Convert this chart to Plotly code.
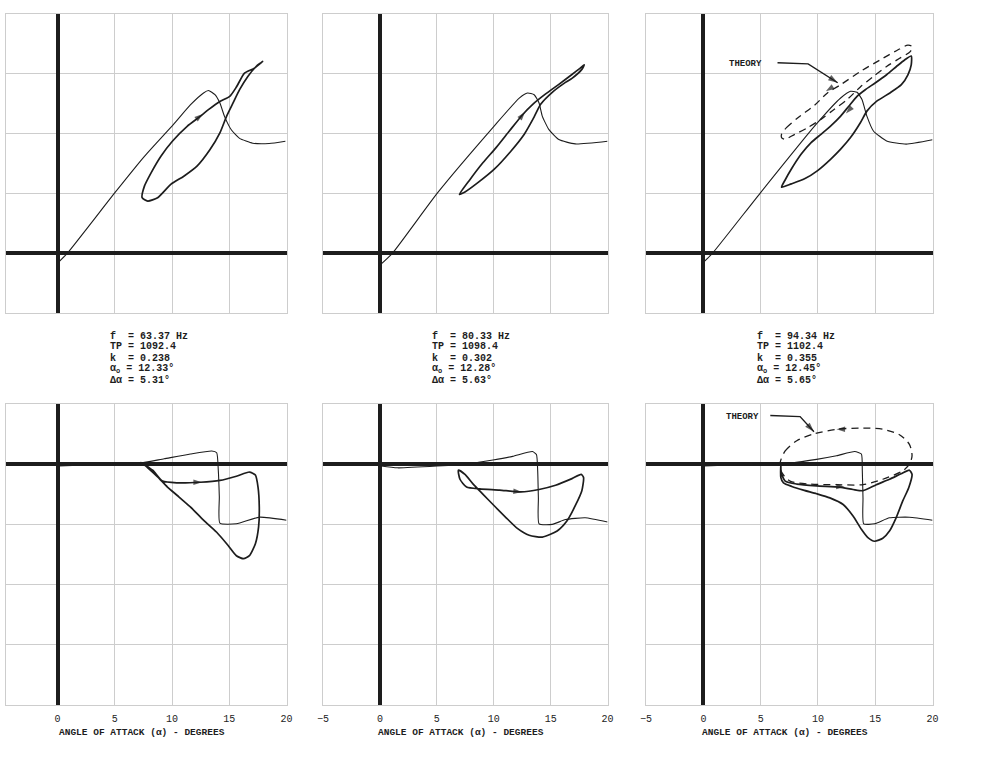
import plotly.graph_objects as go

# ---------------- DATA ----------------
# Top row: lift coefficient vs angle of attack (grid step 0.5)
A1_STATIC = [0.06, 0.86, 5.01, 7.59, 10.11, 11.6, 12.75, 13.18, 13.75, 14.18, 14.6, 15.19, 15.9, 17.05, 18.48, 19.9]
CL1_STATIC = [-0.078, 0.0, 0.506, 0.81, 1.075, 1.24, 1.34, 1.36, 1.325, 1.255, 1.14, 1.03, 0.96, 0.92, 0.917, 0.936]
A1_LOOP = [7.39, 7.88, 8.74, 9.89, 11.03, 12.18, 13.32, 14.18, 14.76, 15.33, 15.9, 16.62, 17.34, 17.91, 17.19,
           16.33, 15.62, 15.04, 14.18, 13.18, 12.46, 11.32, 10.03, 9.03, 8.17, 7.59, 7.39]
CL1_LOOP = [0.464, 0.436, 0.464, 0.575, 0.644, 0.728, 0.867, 1.006, 1.144, 1.256, 1.367, 1.478, 1.561, 1.603, 1.547,
            1.506, 1.389, 1.311, 1.269, 1.2, 1.144, 1.061, 0.936, 0.811, 0.672, 0.561, 0.464]

A2_STATIC = [0.09, 1.1, 5.07, 10.07, 12.24, 12.97, 13.55, 13.98, 14.27, 14.85, 15.72, 17.16, 20.0]
CL2_STATIC = [-0.092, 0.0, 0.506, 1.067, 1.297, 1.339, 1.325, 1.256, 1.144, 1.033, 0.95, 0.914, 0.936]
A2_LOOP = [6.98, 7.9, 9.06, 10.22, 11.37, 12.53, 13.4, 14.56, 15.72, 16.87, 17.6, 17.95, 17.74, 16.87, 16.3,
           15.14, 14.12, 13.55, 12.68, 11.52, 10.07, 8.63, 7.47, 6.98]
CL2_LOOP = [0.492, 0.615, 0.758, 0.885, 1.022, 1.158, 1.243, 1.332, 1.412, 1.494, 1.548, 1.575, 1.537, 1.462, 1.428,
            1.345, 1.245, 1.14, 0.995, 0.855, 0.705, 0.592, 0.512, 0.492]

A3_STATIC = [0.09, 0.8, 4.96, 9.83, 11.98, 12.84, 13.41, 13.84, 14.27, 14.84, 15.99, 17.7, 20.0]
CL3_STATIC = [-0.069, 0.0, 0.503, 1.077, 1.298, 1.354, 1.345, 1.285, 1.146, 1.022, 0.939, 0.912, 0.948]
A3_LOOP = [6.82, 7.68, 8.83, 9.97, 11.12, 11.98, 12.84, 13.7, 14.27, 15.13, 16.28, 17.28, 17.85, 18.14, 18.14,
           17.56, 16.85, 15.99, 14.99, 14.13, 13.41, 12.69, 11.98, 11.12, 10.26, 9.4, 8.54, 7.68, 7.11, 6.82]
CL3_LOOP = [0.552, 0.58, 0.622, 0.691, 0.787, 0.87, 0.967, 1.091, 1.188, 1.271, 1.34, 1.409, 1.492, 1.575, 1.649,
            1.616, 1.561, 1.492, 1.423, 1.367, 1.312, 1.229, 1.146, 1.064, 0.994, 0.925, 0.829, 0.704, 0.608, 0.552]
A3_THEORY = [6.82, 7.25, 8.25, 9.68, 10.83, 11.98, 13.7, 15.42, 16.85, 17.85, 18.22, 18.05, 17.13, 15.99, 14.84,
             13.7, 12.55, 11.4, 10.26, 9.11, 7.97, 7.11, 6.82, 6.82]
CL3_THEORY = [0.994, 1.05, 1.133, 1.235, 1.34, 1.409, 1.519, 1.616, 1.693, 1.74, 1.727, 1.685, 1.63, 1.561, 1.478,
              1.39, 1.285, 1.202, 1.119, 1.05, 0.994, 0.953, 0.967, 0.994]

# Bottom row: pitching-moment coefficient vs angle of attack (grid step 0.1)
A1_CM_STATIC = [0.14, 4.15, 7.0, 9.31, 11.6, 13.47, 13.9, 14.04, 14.13, 14.18, 15.62, 17.62, 20.0]
CM1_STATIC = [-0.003, 0.0, 0.001, 0.009, 0.017, 0.022, 0.019, -0.01, -0.054, -0.098, -0.099, -0.088, -0.093]
A1_CM_LOOP = [7.31, 8.31, 9.17, 10.46, 12.46, 14.18, 15.62, 16.76, 17.28, 17.51, 17.62, 17.56, 17.28, 16.76, 16.25,
              15.62, 14.9, 13.9, 12.75, 11.6, 10.46, 9.6, 8.74, 7.88, 7.31]
CM1_LOOP = [0.003, -0.010, -0.028, -0.031, -0.030, -0.027, -0.020, -0.013, -0.018, -0.038, -0.071, -0.104, -0.132,
            -0.152, -0.157, -0.152, -0.135, -0.113, -0.093, -0.071, -0.052, -0.038, -0.021, -0.006, 0.003]

A2_CM_STATIC = [0.09, 1.53, 5.01, 7.9, 9.93, 11.66, 13.4, 13.75, 13.86, 13.92, 13.98, 15.14, 16.3, 18.03, 20.0]
CM2_STATIC = [-0.003, -0.006, -0.003, 0.001, 0.007, 0.013, 0.021, 0.016, -0.011, -0.056, -0.099, -0.1, -0.092,
              -0.089, -0.096]
A2_CM_LOOP = [6.89, 7.03, 7.61, 8.77, 10.51, 12.39, 13.98, 15.43, 16.87, 17.68, 17.89, 17.74, 17.16, 16.44, 15.57,
              14.27, 13.11, 12.1, 11.09, 9.93, 9.06, 8.19, 7.47, 6.89]
CM2_LOOP = [-0.010, -0.025, -0.038, -0.041, -0.043, -0.046, -0.042, -0.035, -0.024, -0.017, -0.022, -0.044, -0.069,
            -0.094, -0.111, -0.121, -0.118, -0.107, -0.089, -0.067, -0.05, -0.033, -0.017, -0.010]

A3_CM_STATIC = [0.06, 2.95, 7.28, 9.88, 11.62, 13.21, 13.79, 13.87, 13.93, 13.99, 14.94, 16.24, 17.98, 20.0]
CM3_STATIC = [-0.003, -0.001, 0.001, 0.008, 0.014, 0.021, 0.017, -0.011, -0.056, -0.099, -0.099, -0.089, -0.088,
              -0.093]
A3_CM_LOOP = [6.76, 6.79, 7.14, 8.15, 9.88, 11.91, 13.06, 13.93, 15.09, 16.24, 17.25, 17.98, 18.21, 17.92, 17.4,
              16.82, 16.24, 15.66, 14.94, 14.36, 13.79, 13.06, 12.2, 11.04, 9.88, 8.73, 7.72, 6.99, 6.76, 6.76]
CM3_LOOP = [0.0, -0.014, -0.028, -0.033, -0.036, -0.038, -0.042, -0.044, -0.034, -0.025, -0.016, -0.01, -0.017,
            -0.039, -0.061, -0.089, -0.111, -0.123, -0.128, -0.122, -0.108, -0.086, -0.067, -0.056, -0.049, -0.043,
            -0.037, -0.031, -0.022, 0.0]
A3_CM_THEORY = [6.71, 7.14, 8.15, 9.6, 11.62, 13.93, 15.66, 17.11, 17.98, 18.21, 17.98, 17.4, 15.66, 13.93, 11.62,
                9.31, 7.57, 6.85, 6.71]
CM3_THEORY = [0.003, 0.022, 0.039, 0.05, 0.058, 0.06, 0.058, 0.049, 0.033, 0.014, 0.0, -0.011, -0.025, -0.034,
              -0.034, -0.033, -0.028, -0.014, 0.003]

# Direction arrows: (panel, tail alpha, tail coef, head alpha, head coef)
ARROWS = [
    (1, 11.89, 1.103, 12.69, 1.164),
    (2, 11.95, 1.085, 12.74, 1.180),
    (3, 12.89, 1.215, 12.44, 1.169),
    (3, 11.26, 1.389, 10.69, 1.354),
    (4, 11.89, -0.030, 12.61, -0.030),
    (5, 11.81, -0.045, 12.47, -0.046),
    (6, 11.62, -0.037, 12.34, -0.038),
    (6, 12.34, 0.058, 11.62, 0.058),
]

# "THEORY" leaders: (panel, label alpha, label coef, line alphas, line coefs)
THEORY_LABELS = [
    (3, 3.67, 1.58, [6.47, 9.14, 11.72], [1.592, 1.583, 1.425]),
    (6, 3.38, 0.079, [5.84, 8.44, 9.65], [0.081, 0.079, 0.054]),
]

PARAM_TEXT = [
    ["f\u00a0\u00a0= 63.37 Hz", "TP = 1092.4", "k\u00a0\u00a0= 0.238", "α<sub>o</sub> = 12.33°", "Δα = 5.31°"],
    ["f\u00a0\u00a0= 80.33 Hz", "TP = 1098.4", "k\u00a0\u00a0= 0.302", "α<sub>o</sub> = 12.28°", "Δα = 5.63°"],
    ["f\u00a0\u00a0= 94.34 Hz", "TP = 1102.4", "k\u00a0\u00a0= 0.355", "α<sub>o</sub> = 12.45°", "Δα = 5.65°"],
]
X_TITLE = "ANGLE OF ATTACK (α) - DEGREES"

STATIC = [(A1_STATIC, CL1_STATIC), (A2_STATIC, CL2_STATIC), (A3_STATIC, CL3_STATIC),
          (A1_CM_STATIC, CM1_STATIC), (A2_CM_STATIC, CM2_STATIC), (A3_CM_STATIC, CM3_STATIC)]
LOOPS = [(A1_LOOP, CL1_LOOP), (A2_LOOP, CL2_LOOP), (A3_LOOP, CL3_LOOP),
         (A1_CM_LOOP, CM1_LOOP), (A2_CM_LOOP, CM2_LOOP), (A3_CM_LOOP, CM3_LOOP)]
THEORY = {3: (A3_THEORY, CL3_THEORY), 6: (A3_CM_THEORY, CM3_THEORY)}

# ---------------- LAYOUT ----------------
W, H = 983, 759
FONT = "Liberation Mono"
INK = "#1d1d1d"
GRID = "#cdcdcd"
COL_PX = [(0, 284), (321, 609), (648, 938)]
ROW_PX = [(14, 313), (404, 705)]
X_RANGES = [[-4.5, 20], [-5, 20], [-5, 20]]
Y_RANGES = [[-0.5, 2.0], [-0.4, 0.1]]
Y_DTICK = [0.5, 0.1]


def px_x(p):
    return p / W


def px_y(p):
    return 1 - p / H


def axes_of(n):
    sfx = "" if n == 1 else str(n)
    return "x" + sfx, "y" + sfx


fig = go.Figure()
layout = dict(
    width=W, height=H, margin=dict(l=0, r=0, t=0, b=0),
    paper_bgcolor="white", plot_bgcolor="white", showlegend=False,
    font=dict(family=FONT, color=INK),
)
annotations = []

for row in range(2):
    for col in range(3):
        n = row * 3 + col + 1
        sfx = "" if n == 1 else str(n)
        xr, yr = axes_of(n)
        common = dict(showgrid=True, gridcolor=GRID, gridwidth=1,
                      zeroline=True, zerolinecolor=INK, zerolinewidth=3.5,
                      showline=True, mirror=True, linecolor=GRID, linewidth=1, fixedrange=True)
        layout["xaxis" + sfx] = dict(
            domain=[px_x(COL_PX[col][0]), px_x(COL_PX[col][1])], anchor=yr,
            range=X_RANGES[col], tick0=0, dtick=5,
            showticklabels=(row == 1), ticks="outside", ticklen=4, tickcolor="rgba(0,0,0,0)",
            tickfont=dict(family=FONT, size=10, color=INK), **common)
        layout["yaxis" + sfx] = dict(
            domain=[px_y(ROW_PX[row][1]), px_y(ROW_PX[row][0])], anchor=xr,
            range=Y_RANGES[row], tick0=0, dtick=Y_DTICK[row], showticklabels=False, **common)

        sa, sc = STATIC[n - 1]
        fig.add_trace(go.Scatter(x=sa, y=sc, mode="lines", xaxis=xr, yaxis=yr,
                                 line=dict(color=INK, width=1.1, shape="spline", smoothing=0.5),
                                 hoverinfo="skip"))
        la, lc = LOOPS[n - 1]
        fig.add_trace(go.Scatter(x=la, y=lc, mode="lines", xaxis=xr, yaxis=yr,
                                 line=dict(color=INK, width=1.7, shape="spline", smoothing=0.6),
                                 hoverinfo="skip"))
        if n in THEORY:
            ta, tc = THEORY[n]
            fig.add_trace(go.Scatter(x=ta, y=tc, mode="lines", xaxis=xr, yaxis=yr,
                                     line=dict(color=INK, width=1.3, dash="7px,5px", shape="spline", smoothing=0.8),
                                     hoverinfo="skip"))

        if row == 1:
            annotations.append(dict(
                xref="paper", yref="paper", x=px_x((COL_PX[col][0] + COL_PX[col][1]) / 2 - 4),
                y=px_y(732), text="<b>" + X_TITLE + "</b>", showarrow=False, xanchor="center", yanchor="middle",
                font=dict(family=FONT, size=9.5, color=INK)))

# parameter text blocks between the rows
TEXT_X = [103, 429, 758]
TEXT_Y = [336, 347, 358, 369, 380]
for col in range(3):
    for i, line in enumerate(PARAM_TEXT[col]):
        annotations.append(dict(
            xref="paper", yref="paper", x=px_x(TEXT_X[col]), y=px_y(TEXT_Y[i]),
            text="<b>" + line + "</b>", showarrow=False, xanchor="left", yanchor="middle",
            font=dict(family=FONT, size=10, color=INK)))

# direction arrows drawn as oriented arrow markers
for p, ta, tc, ha, hc in ARROWS:
    xr, yr = axes_of(p)
    fig.add_trace(go.Scatter(x=[ta, ha], y=[tc, hc], mode="markers", xaxis=xr, yaxis=yr,
                             marker=dict(symbol="arrow", size=[0, 9], angleref="previous", color=INK,
                                         line=dict(width=0)),
                             hoverinfo="skip"))

# THEORY labels and leaders
for p, la, lc, xs, ys in THEORY_LABELS:
    xr, yr = axes_of(p)
    sfx = "" if p == 1 else str(p)
    annotations.append(dict(
        xref="x" + sfx, yref="y" + sfx, x=la, y=lc, text="<b>THEORY</b>", showarrow=False,
        xanchor="center", yanchor="middle", font=dict(family=FONT, size=9, color=INK)))
    fig.add_trace(go.Scatter(x=xs, y=ys, mode="lines+markers", xaxis=xr, yaxis=yr,
                             line=dict(color=INK, width=1.4),
                             marker=dict(symbol="arrow", size=[0, 0, 10], angleref="previous", color=INK,
                                         line=dict(width=0)),
                             hoverinfo="skip"))

layout["annotations"] = annotations
fig.update_layout(**layout)
fig.write_html("out.html")
